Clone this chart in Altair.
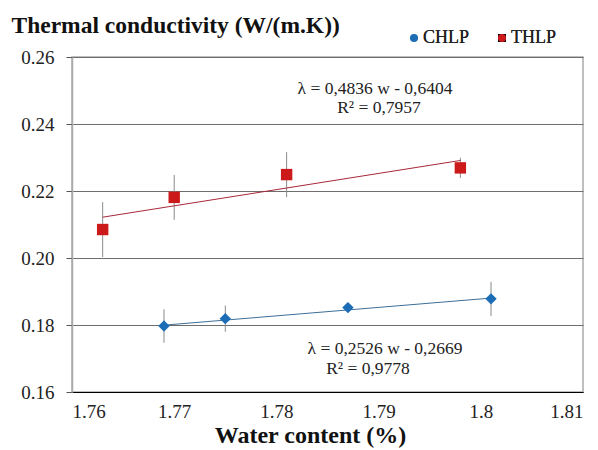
import altair as alt
import pandas as pd

# ---- data ----
chlp_w = [1.769, 1.775, 1.787, 1.801]
chlp_l = [0.1797, 0.1819, 0.1852, 0.1878]
chlp_e = [0.0050, 0.0039, 0.0008, 0.0051]

thlp_w = [1.763, 1.770, 1.781, 1.798]
thlp_l = [0.2085, 0.2181, 0.2249, 0.2269]
thlp_e = [0.0082, 0.0067, 0.0067, 0.0030]

series_names = ["CHLP", "THLP"]
slopes = [0.2526, 0.4836]
intercepts = [-0.2669, -0.6404]
eq_text = ["λ = 0,2526 w - 0,2669", "λ = 0,4836 w - 0,6404"]
r2_text = ["R² = 0,9778", "R² = 0,7957"]

x_ticks = [1.76, 1.77, 1.78, 1.79, 1.80, 1.81]
y_ticks = [0.16, 0.18, 0.20, 0.22, 0.24, 0.26]

FONT = "Liberation Serif"

pts = pd.DataFrame({
    "series": ["CHLP"] * 4 + ["THLP"] * 4,
    "w": chlp_w + thlp_w,
    "lam": chlp_l + thlp_l,
    "err": chlp_e + thlp_e,
})
pts["lo"] = pts["lam"] - pts["err"]
pts["hi"] = pts["lam"] + pts["err"]

trend_rows = []
for name, a, b, ws in zip(series_names, slopes, intercepts, [chlp_w, thlp_w]):
    for w in (min(ws), max(ws)):
        trend_rows.append({"series": name, "w": w, "lam": a * w + b})
trend = pd.DataFrame(trend_rows)

xs = alt.Scale(domain=[1.76, 1.81], nice=False, zero=False)
ys = alt.Scale(domain=[0.16, 0.26], nice=False, zero=False)

xaxis = alt.Axis(values=x_ticks, format=".2~f", title="Water content (%)",
                 grid=False, ticks=False, domainColor="#000", domainWidth=1.2,
                 labelFont=FONT, labelFontSize=19, labelColor="#222", labelPadding=10,
                 titleFont=FONT, titleFontSize=24, titleFontWeight="bold",
                 titleColor="#111", titleX=238, titleY=50, titleBaseline="alphabetic")
yaxis = alt.Axis(values=y_ticks, format=".2f", title="Thermal conductivity (W/(m.K))",
                 grid=True, gridColor="#6e6e6e", gridWidth=1,
                 ticks=True, tickSize=6, tickColor="#555",
                 domainColor="#aaa", domainWidth=1.5,
                 labelFont=FONT, labelFontSize=19, labelColor="#222", labelPadding=12,
                 titleFont=FONT, titleFontSize=23.5, titleFontWeight="bold", titleColor="#111",
                 titleAngle=0, titleAlign="left", titleBaseline="alphabetic",
                 titleX=-61, titleY=-25)

errs = alt.Chart(pts).mark_rule(color="#8a8a8a", strokeWidth=1).encode(
    x=alt.X("w:Q", scale=xs, axis=xaxis),
    y=alt.Y("lo:Q", scale=ys, axis=yaxis),
    y2="hi:Q",
)

lines = alt.Chart(trend).mark_line(strokeWidth=1).encode(
    x=alt.X("w:Q", scale=xs, axis=xaxis),
    y=alt.Y("lam:Q", scale=ys, axis=yaxis),
    color=alt.Color("series:N", scale=alt.Scale(domain=series_names,
                                                 range=["#3d6f99", "#a8283a"]),
                    legend=None),
    detail="series:N",
)

leg = alt.Legend(title=None, orient="none", direction="horizontal",
                 legendX=333, legendY=-28, columnPadding=23,
                 labelFont=FONT, labelFontSize=18, labelColor="#222",
                 symbolSize=65, labelOffset=0)

points = alt.Chart(pts).mark_point(filled=True, opacity=1, strokeWidth=0.5).encode(
    x=alt.X("w:Q", scale=xs, axis=xaxis),
    y=alt.Y("lam:Q", scale=ys, axis=yaxis),
    color=alt.Color("series:N",
                    scale=alt.Scale(domain=series_names, range=["#1c6db6", "#cc1a1a"]),
                    legend=leg),
    shape=alt.Shape("series:N",
                    scale=alt.Scale(domain=series_names, range=["diamond", "square"]),
                    legend=leg),
    size=alt.value(130),
)

ann = pd.DataFrame({"eq": eq_text, "r2": r2_text, "series": series_names})


def txt(sub, field, x, y):
    return alt.Chart(sub).mark_text(
        font=FONT, fontSize=17.5, color="#222", align="center", baseline="middle"
    ).encode(x=alt.value(x), y=alt.value(y), text=f"{field}:N")


a_c = ann[ann.series == "CHLP"]
a_t = ann[ann.series == "THLP"]

chart = alt.layer(
    errs, lines, points,
    txt(a_c, "eq", 313, 292), txt(a_c, "r2", 296, 312),
    txt(a_t, "eq", 303, 32), txt(a_t, "r2", 307, 51),
).resolve_scale(
    color="independent"
).properties(
    width=511, height=335,
    autosize=alt.AutoSizeParams(type="none"),
    padding={"left": 64, "top": 49, "right": 7, "bottom": 58},
    background="white",
).configure_view(stroke="#aaa", strokeWidth=1.5)

chart.save("out.html", embed_options={"renderer": "svg", "actions": False})
